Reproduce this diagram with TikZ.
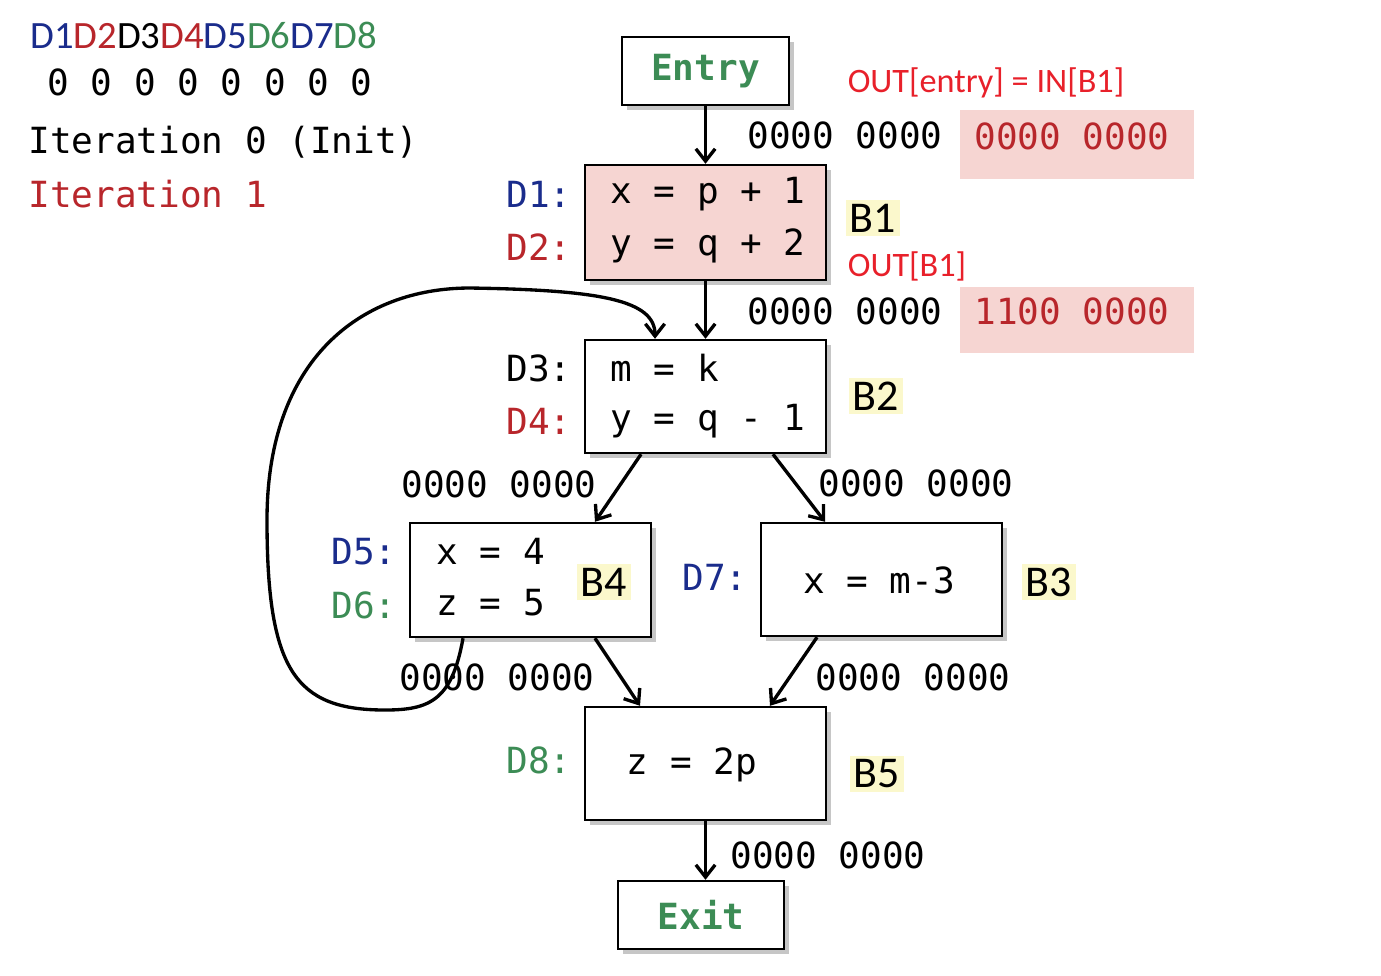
\documentclass[tikz,border=0pt]{standalone}
\usepackage{fontspec}
\setmainfont{Carlito}
\newfontfamily\cmono{DejaVu Sans Mono}
\usetikzlibrary{shadows,arrows.meta}
\definecolor{dblue}{HTML}{1A2C8C}
\definecolor{dred}{HTML}{B8262B}
\definecolor{dgreen}{HTML}{3C8C55}
\definecolor{lred}{HTML}{E8202A}
\definecolor{pinkbg}{HTML}{F6D5D2}
\definecolor{yelbg}{HTML}{FBF8CC}
\tikzset{
  blk/.style={draw, line width=1.4pt, fill=white, drop shadow={opacity=.45, shadow xshift=3pt, shadow yshift=-3pt}},
  arr/.style={line width=1.9pt, -{Straight Barb[length=7pt,width=11pt]}},
  code/.style={font=\cmono\fontsize{20.5}{24}\selectfont, inner sep=0pt},
  bits/.style={font=\cmono\fontsize{20.5}{24}\selectfont, inner sep=0pt},
  dlab/.style={font=\fontsize{22}{26}\selectfont, inner sep=0pt},
  blab/.style={font=\fontsize{25}{28}\selectfont, fill=yelbg, inner sep=2pt},
  note/.style={font=\fontsize{19.5}{23}\selectfont, text=lred, inner sep=0pt},
}
\begin{document}
\begin{tikzpicture}[x=0.02cm, y=-0.02cm]
\useasboundingbox (0,0) rectangle (1381,975);

% header
\node[dlab, anchor=west] (hdr) at (30,35) {\textcolor{dblue}{D1}\textcolor{dred}{D2}D3\textcolor{dred}{D4}\textcolor{dblue}{D5}\textcolor{dgreen}{D6}\textcolor{dblue}{D7}\textcolor{dgreen}{D8}};
\node[code, anchor=west] (init) at (47,82) {0 0 0 0 0 0 0 0};
\node[code, anchor=west] (it0) at (28,142) {Iteration 0 (Init)};
\node[code, anchor=west, text=dred] (it1) at (28,194) {Iteration 1};

% blocks
\node[blk, minimum width=3.34cm, minimum height=1.36cm, font=\cmono\bfseries\fontsize{20.5}{24}\selectfont, text=dgreen] (entry) at (705.5,71) {Entry};
\node[blk, fill=pinkbg, minimum width=4.82cm, minimum height=2.3cm] (b1) at (705.5,222.5) {};
\node[blk, minimum width=4.82cm, minimum height=2.26cm] (b2) at (705.5,396.5) {};
\node[blk, minimum width=4.82cm, minimum height=2.28cm] (b4) at (530.5,580) {};
\node[blk, minimum width=4.82cm, minimum height=2.26cm] (b3) at (881.5,579.5) {};
\node[blk, minimum width=4.82cm, minimum height=2.26cm] (b5) at (705.5,763.5) {};
\node[blk, minimum width=3.32cm, minimum height=1.36cm, font=\cmono\bfseries\fontsize{20.5}{24}\selectfont, text=dgreen] (exit) at (701,915) {Exit};

% code
\node[code, anchor=west] (c1) at (610,194) {x = p + 1};
\node[code, anchor=west] (c2) at (610,246) {y = q + 2};
\node[code, anchor=west] (c3) at (610,368) {m = k};
\node[code, anchor=west] (c4) at (610,421) {y = q - 1};
\node[code, anchor=west] (c5) at (436,551) {x = 4};
\node[code, anchor=west] (c6) at (436,603) {z = 5};
\node[code] (c7) at (879,580) {x = m-3};
\node[code] (c8) at (692,765) {z = 2p};

% definition labels
\node[code, anchor=east, text=dblue] (d1) at (572,194) {D1:};
\node[code, anchor=east, text=dred] (d2) at (572,247) {D2:};
\node[code, anchor=east] (d3) at (572,368) {D3:};
\node[code, anchor=east, text=dred] (d4) at (572,421) {D4:};
\node[code, anchor=east, text=dblue] (d5) at (397,552) {D5:};
\node[code, anchor=east, text=dgreen] (d6) at (397,605) {D6:};
\node[code, anchor=east, text=dblue] (d7) at (748,577) {D7:};
\node[code, anchor=east, text=dgreen] (d8) at (572,760) {D8:};

% block names
\node[blab] (n1) at (873,218) {B1};
\node[blab] (n2) at (876,396) {B2};
\node[blab] (n4) at (604,582) {B4};
\node[blab] (n3) at (1049,582) {B3};
\node[blab] (n5) at (877,774) {B5};

% bit vectors
\node[bits] (v1) at (845,135) {0000 0000};
\node[bits] (v2) at (845,311) {0000 0000};
\node[bits] (v3) at (499,484) {0000 0000};
\node[bits] (v4) at (916,483) {0000 0000};
\node[bits] (v5) at (497,677) {0000 0000};
\node[bits] (v6) at (913,677) {0000 0000};
\node[bits] (v7) at (828,855) {0000 0000};
\node[fill=pinkbg, minimum width=4.68cm, minimum height=1.38cm] (p1) at (1077,144.5) {};
\node[fill=pinkbg, minimum width=4.68cm, minimum height=1.32cm] (p2) at (1077,320) {};
\node[bits, text=dred] (p1t) at (1072,136) {0000 0000};
\node[bits, text=dred] (p2t) at (1072,311) {1100 0000};
\node[note] (o1) at (986,83) {OUT[entry] = IN[B1]};
\node[note] (o2) at (907,266) {OUT[B1]};

% edges
\draw[arr] (entry) -- (b1);
\draw[arr] (b1) -- (b2);
\draw[arr] ([xshift=-1.29cm]b2.south) -- ([xshift=1.29cm]b4.north);
\draw[arr] ([xshift=1.35cm]b2.south) -- ([xshift=-1.13cm]b3.north);
\draw[arr] ([xshift=1.29cm]b4.south) -- ([xshift=-1.31cm]b5.north);
\draw[arr] ([xshift=-1.29cm]b3.south) -- ([xshift=1.29cm]b5.north);
\draw[arr] (b5) -- (exit.north -| b5.south);
\draw[arr] ([xshift=-1.35cm]b4.south) .. controls (452,700) and (430,710) .. (385,710)
  .. controls (295,710) and (267,670) .. (267,520)
  .. controls (267,360) and (360,288) .. (470,288)
  .. controls (600,290) and (655,300) .. ([xshift=-1.01cm]b2.north);
\end{tikzpicture}
\end{document}
